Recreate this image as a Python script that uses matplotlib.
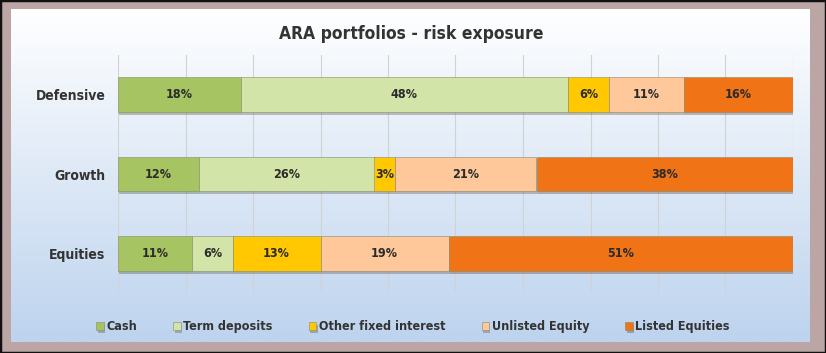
import numpy as np
import matplotlib
matplotlib.use("Agg")
import matplotlib.pyplot as plt
import matplotlib.patheffects as pe
from matplotlib.patches import Rectangle

# data (percent of each portfolio)
portfolios = ["Defensive", "Growth", "Equities"]
assets = ["Cash", "Term deposits", "Other fixed interest", "Unlisted Equity", "Listed Equities"]
cash = [18, 12, 11]
term_deposits = [48, 26, 6]
other_fixed = [6, 3, 13]
unlisted_equity = [11, 21, 19]
listed_equities = [16, 38, 51]
colors = ["#a6c562", "#d3e4a8", "#ffc800", "#fec89a", "#f07316"]

plt.rcParams["font.family"] = ["DejaVu Sans"]
plt.rcParams["font.stretch"] = "condensed"

series = np.array([cash, term_deposits, other_fixed, unlisted_equity, listed_equities], dtype=float)
# 100% stacked: scale each portfolio to its total
shares = series / series.sum(axis=0) * 100

fig = plt.figure(figsize=(8.26, 3.53), dpi=100)
fig.patch.set_facecolor("#bba5a5")
fig.patches.append(Rectangle((0, 0), 1, 1, transform=fig.transFigure,
                             fill=False, edgecolor="#111111", linewidth=2.5))

# inner panel with white -> light blue gradient
bg = fig.add_axes([11 / 826, 11 / 353, 799 / 826, 333 / 353])
grad = np.linspace(0, 1, 256).reshape(-1, 1)
top = np.array([1.0, 1.0, 1.0])
bottom = np.array([0xbd, 0xd3, 0xee]) / 255
img = top + (bottom - top) * grad[..., None]
bg.imshow(img, aspect="auto", extent=[0, 1, 0, 1], origin="upper")
bg.set_axis_off()

ax = fig.add_axes([118 / 826, 60 / 353, 675 / 826, 238 / 353])
ax.set_facecolor("none")
y = np.arange(len(portfolios))
left = np.zeros(len(portfolios))
for i, name in enumerate(assets):
    bars = ax.barh(y, shares[i], left=left, height=0.44, color=colors[i],
                   edgecolor="#8a8a6a", linewidth=0.4, label=name, zorder=3)
    for b in bars:
        b.set_path_effects([pe.SimplePatchShadow(offset=(1, -2), alpha=0.3), pe.Normal()])
    for j in range(len(portfolios)):
        ax.text(left[j] + shares[i][j] / 2, y[j], f"{series[i][j]:.0f}%",
                ha="center", va="center", fontsize=9, fontweight="bold",
                color="#2b2b2b", zorder=4)
    left += shares[i]

ax.set_xlim(0, 100)
ax.set_ylim(2.5, -0.5)
ax.set_yticks(y)
ax.set_yticklabels(portfolios, fontsize=10, fontweight="bold", color="#333333")
ax.set_xticks(np.arange(0, 101, 10))
ax.set_xticklabels([])
ax.tick_params(length=0, pad=9)
ax.grid(axis="x", color="#d2d2d2", linewidth=0.8, zorder=0)
for s in ax.spines.values():
    s.set_visible(False)

fig.text(0.498, 0.905, "ARA portfolios - risk exposure", ha="center", va="center",
         fontsize=12.5, fontweight="bold", color="#333333")

fig.legend(loc="center", bbox_to_anchor=(0.5, 0.074), ncol=5, frameon=False,
           handlelength=0.6, handleheight=0.6, handletextpad=0.2, columnspacing=2.9,
           prop={"size": 9, "weight": "bold"}, labelcolor="#333333")

fig.savefig("out.png", dpi=100, facecolor=fig.get_facecolor())
